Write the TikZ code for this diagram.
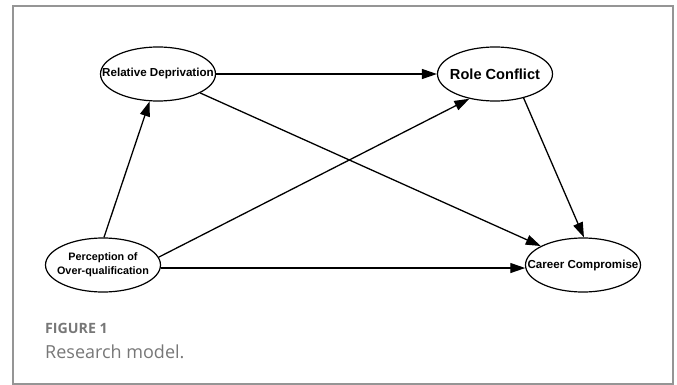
\documentclass[tikz,border=0pt]{standalone}
\usepackage{fontspec}
\setmainfont{Liberation Sans}
\newfontfamily\capfont{Open Sans}
\usetikzlibrary{shapes.geometric,arrows.meta}
\definecolor{framegray}{HTML}{959595}
\definecolor{capgray}{HTML}{777777}
\newcommand{\fitin}[1]{\makebox[0pt]{#1}}
\begin{document}
\begin{tikzpicture}[x=1pt,y=-1pt,
  var/.style={ellipse, draw, line width=1.2pt, inner sep=0pt,
    minimum width=115pt, minimum height=54pt,
    font=\bfseries\fontsize{11.6}{13}\selectfont},
  link/.style={line width=1.3pt, -{Triangle[length=15pt,width=10pt]}},
  figlabel/.style={anchor=west, inner sep=0pt, text=capgray}]
\useasboundingbox (0,0) rectangle (677,385);
\draw[framegray, line width=1.7pt] (13,6) rectangle (673,384);
\node[var] (rd) at (158,74) {\fitin{Relative Deprivation}};
\node[var, font=\bfseries\fontsize{14.6}{17}\selectfont] (rc) at (495,74) {\fitin{Role Conflict}};
\node[var, font=\bfseries\fontsize{10.8}{14}\selectfont] (poq) at (103,265) {\fitin{\begin{tabular}{@{}c@{}}Perception of\\Over-qualification\end{tabular}}};
\node[var] (cc) at (583,265) {\fitin{Career Compromise}};
\draw[link] (rd.east) -- (rc.west);
\draw[link] (rd) -- (cc);
\draw[link] (rc.-40) -- (cc.88);
\draw[link] (poq.88) -- (rd.-107);
\draw[link] (poq.8) -- (rc.-136);
\draw[link] (poq.-3) -- (cc.183);
\node[figlabel, font=\capfont\bfseries\fontsize{14.2}{16}\selectfont] (fig) at (45,328) {FIGURE 1};
\node[figlabel, font=\capfont\fontsize{18}{21}\selectfont] (cap) at (45,352) {Research model.};
\end{tikzpicture}
\end{document}
